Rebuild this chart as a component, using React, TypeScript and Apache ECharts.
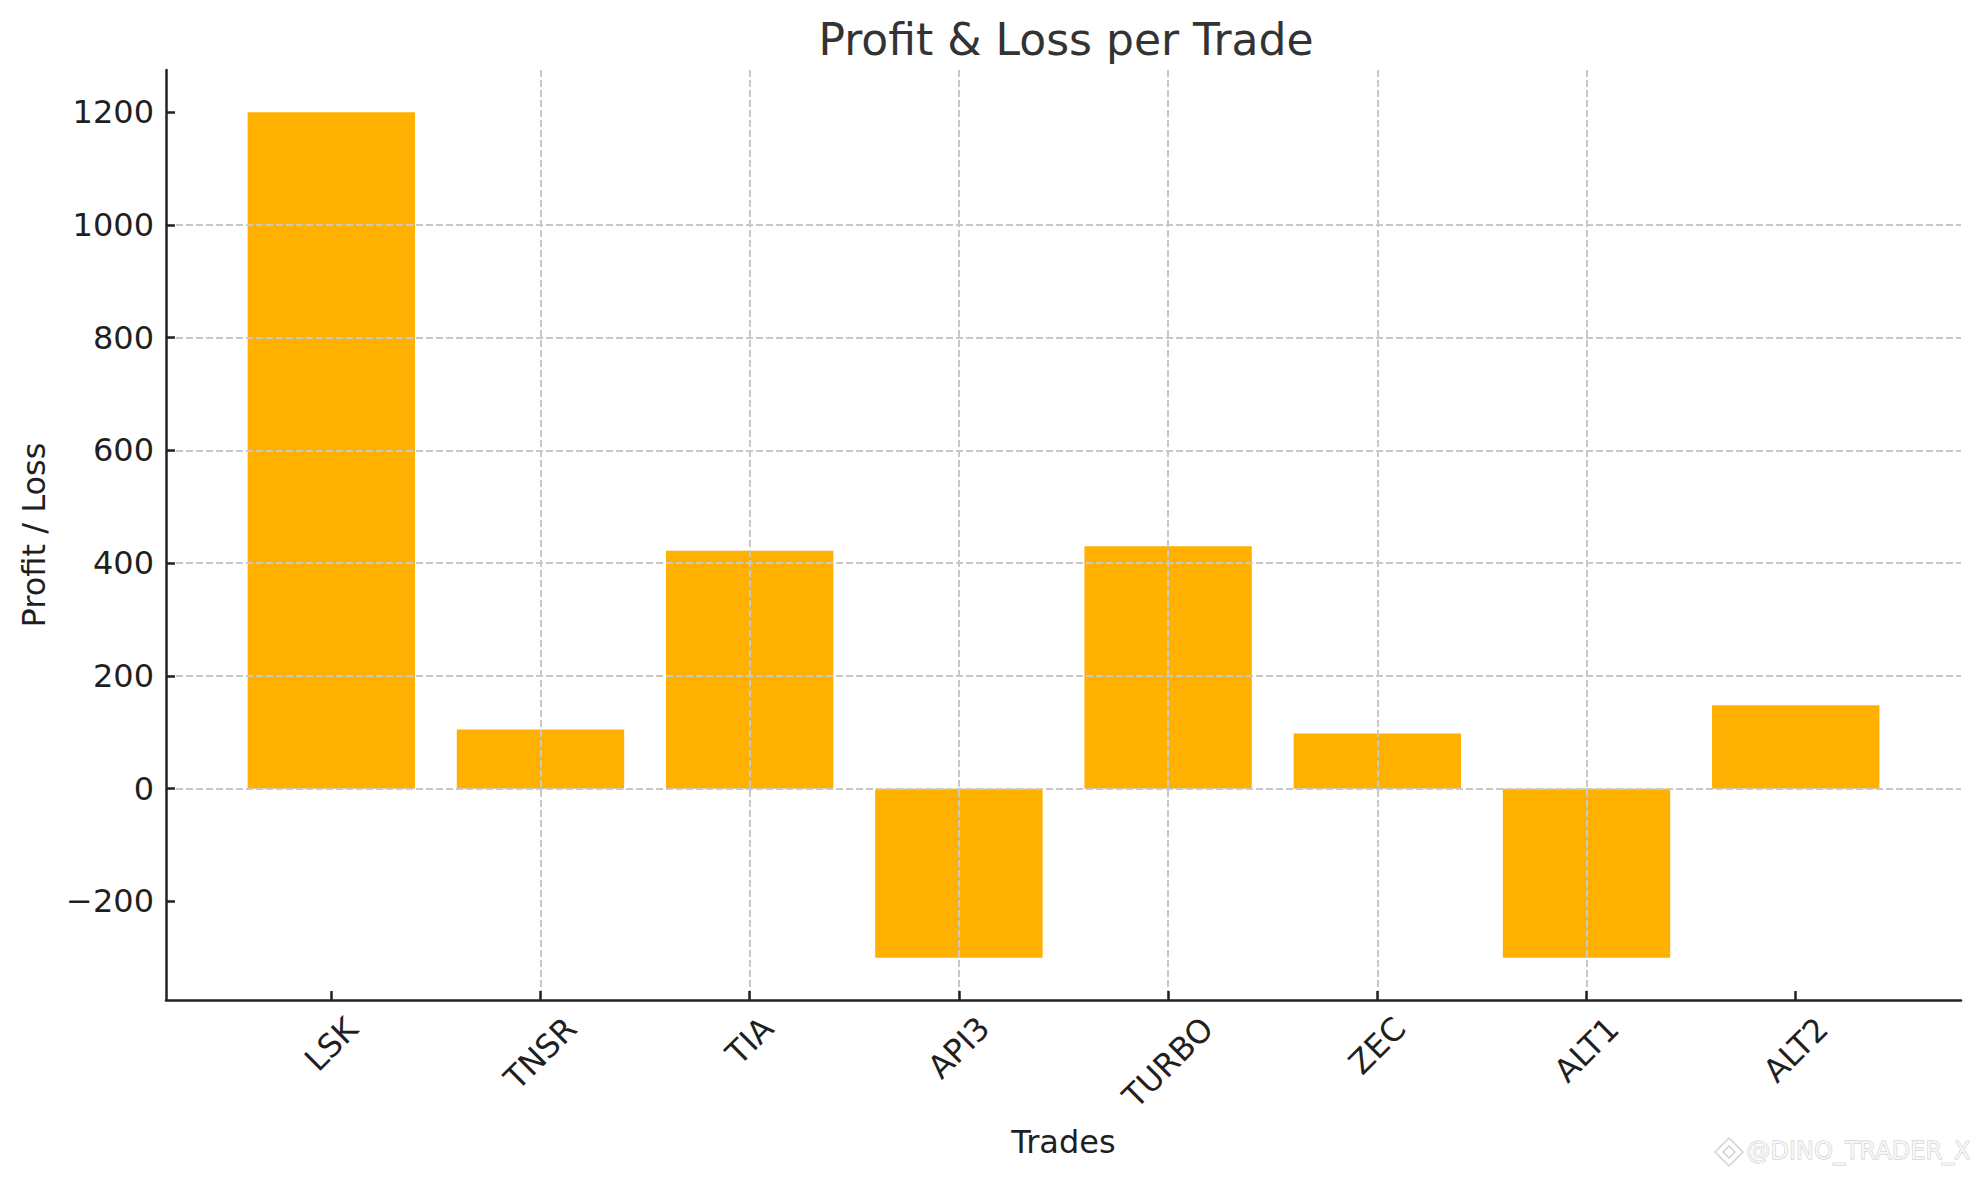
import React, { useEffect, useRef } from "react";
import * as echarts from "echarts";

// ---- data ----
const categories = ["LSK", "TNSR", "TIA", "API3", "TURBO", "ZEC", "ALT1", "ALT2"];
const pnlValues = [1200, 105, 422, -300, 430, 98, -300, 148];
const yTickValues = [-200, 0, 200, 400, 600, 800, 1000, 1200];
const xTickIndices = [0, 1, 2, 3, 4, 5, 6, 7];
const titleText = "Profit & Loss per Trade";
const xAxisName = "Trades";
const yAxisName = "Profit / Loss";
const watermarkText = "@DINO_TRADER_X";

// axis extents (matplotlib-style 5% margins)
const Y_MIN = -375;
const Y_MAX = 1275;
const X_MIN = -0.79;
const X_MAX = 7.79;

const FONT = "'DejaVu Sans', 'Noto Sans', sans-serif";
const TEXT_COLOR = "#1f1f1f";
const AXIS_COLOR = "#222222";
const GRID_COLOR = "#c8c8c8";
const BAR_COLOR = "#FFB000";
const LABEL_SIZE = 32;

function measureText(text: string, font: string): number {
  const c = document.createElement("canvas").getContext("2d");
  if (!c) return text.length * 20;
  c.font = font;
  return c.measureText(text).width;
}

export default function App() {
  const ref = useRef<HTMLDivElement>(null);

  useEffect(() => {
    document.body.style.margin = "0";
    if (!ref.current) return;
    const chart = echarts.init(ref.current, null, { renderer: "svg" });

    // per-label padding so the rotated label's bbox is centred under its tick
    // and all bboxes share the same top (matplotlib ha=center, va=top)
    const rich: Record<string, any> = {};
    categories.forEach((c, i) => {
      const w = measureText(c, `${LABEL_SIZE}px 'DejaVu Sans'`);
      const p = Math.round(w * 0.5);
      rich["r" + i] = {
        fontSize: LABEL_SIZE,
        fontFamily: FONT,
        color: TEXT_COLOR,
        padding: [p, p, 0, 0],
      };
    });

    const fmtY = (v: number) => (v < 0 ? "\u2212" + Math.abs(v) : String(v));

    const option: any = {
      animation: false,
      backgroundColor: "#ffffff",
      title: {
        text: titleText,
        left: 1061,
        top: 12,
        textAlign: "center",
        textStyle: {
          fontSize: 44,
          fontWeight: "normal",
          fontFamily: FONT,
          color: "#333333",
        },
      },
      grid: {
        left: 166,
        right: 18,
        top: 70,
        bottom: 180,
        containLabel: false,
        outerBoundsMode: "none",
      },
      xAxis: {
        type: "value",
        min: X_MIN,
        max: X_MAX,
        z: 5,
        name: xAxisName,
        nameLocation: "middle",
        nameGap: 126,
        nameMoveOverlap: false,
        nameTextStyle: { fontSize: LABEL_SIZE, fontFamily: FONT, color: TEXT_COLOR },
        axisLine: { show: true, onZero: false, lineStyle: { color: AXIS_COLOR, width: 2.5 } },
        axisTick: {
          show: true,
          inside: true,
          length: 9,
          customValues: xTickIndices,
          lineStyle: { color: AXIS_COLOR, width: 2.5 },
        },
        axisLabel: {
          customValues: xTickIndices,
          rotate: 45,
          align: "center",
          verticalAlign: "middle",
          margin: 23,
          fontSize: LABEL_SIZE,
          fontFamily: FONT,
          color: TEXT_COLOR,
          hideOverlap: false,
          formatter: (v: number) => {
            const i = Math.round(v);
            return categories[i] !== undefined ? `{r${i}|${categories[i]}}` : "";
          },
          rich,
        },
        splitLine: {
          show: true,
          showMinLine: false,
          showMaxLine: false,
          lineStyle: { color: GRID_COLOR, width: 2, type: [7, 3] },
        },
      },
      yAxis: {
        type: "value",
        min: Y_MIN,
        max: Y_MAX,
        z: 5,
        name: yAxisName,
        nameLocation: "middle",
        nameGap: 116,
        nameMoveOverlap: false,
        nameTextStyle: { fontSize: LABEL_SIZE, fontFamily: FONT, color: TEXT_COLOR },
        axisLine: { show: true, onZero: false, lineStyle: { color: AXIS_COLOR, width: 2.5 } },
        axisTick: {
          show: true,
          inside: true,
          length: 9,
          customValues: yTickValues,
          lineStyle: { color: AXIS_COLOR, width: 2.5 },
        },
        axisLabel: {
          customValues: yTickValues,
          margin: 12,
          fontSize: LABEL_SIZE,
          fontFamily: FONT,
          color: TEXT_COLOR,
          formatter: fmtY,
        },
        splitLine: {
          show: true,
          showMinLine: false,
          showMaxLine: false,
          lineStyle: { color: GRID_COLOR, width: 2, type: [7, 3] },
        },
      },
      series: [
        {
          type: "bar",
          data: pnlValues.map((v, i) => [xTickIndices[i], v]),
          barWidth: "80%",
          itemStyle: { color: BAR_COLOR },
          z: 1,
        },
      ],
      graphic: [
        {
          type: "text",
          right: 8,
          top: 1138,
          style: {
            text: watermarkText,
            fontSize: 24,
            fontFamily: FONT,
            fill: "#f6f6f6",
            stroke: "#c9c9c9",
            lineWidth: 1,
          },
        },
        {
          type: "polygon",
          shape: { points: [[1729, 1138], [1743, 1152], [1729, 1166], [1715, 1152]] },
          style: { fill: "none", stroke: "#d2d2d2", lineWidth: 1.5 },
        },
        {
          type: "polygon",
          shape: { points: [[1729, 1146], [1735, 1152], [1729, 1158], [1723, 1152]] },
          style: { fill: "none", stroke: "#d2d2d2", lineWidth: 1.5 },
        },
      ],
    };

    chart.setOption(option);
    return () => chart.dispose();
  }, []);

  return <div ref={ref} style={{ width: 1979, height: 1180 }} />;
}
